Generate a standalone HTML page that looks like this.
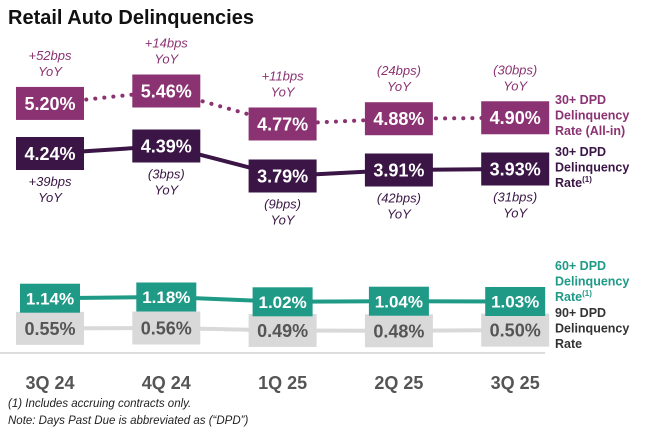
<!DOCTYPE html>
<html><head><meta charset="utf-8"><style>
body{margin:0;background:#fff;width:647px;height:429px;overflow:hidden;font-family:"Liberation Sans",sans-serif}
svg text{font-family:"Liberation Sans",sans-serif}
</style></head><body>
<svg id="c" width="647" height="429">
<text x="8" y="24" font-size="20" font-weight="bold" fill="#111">Retail Auto Delinquencies</text>
<line x1="0" y1="353" x2="545" y2="353" stroke="#ddd" stroke-width="2"/>
<text x="8" y="407" font-size="11.5" font-style="italic" fill="#222">(1) Includes accruing contracts only.</text>
<text x="8" y="424" font-size="11.5" font-style="italic" fill="#222">Note: Days Past Due is abbreviated as (“DPD”)</text>
</svg>
<script>
const categories=["3Q 24","4Q 24","1Q 25","2Q 25","3Q 25"];
const allIn=[5.20,5.46,4.77,4.88,4.90];
const dpd30=[4.24,4.39,3.79,3.91,3.93];
const dpd60=[1.14,1.18,1.02,1.04,1.03];
const dpd90=[0.55,0.56,0.49,0.48,0.50];
const allInYoY=["+52bps","+14bps","+11bps","(24bps)","(30bps)"];
const dpd30YoY=["+39bps","(3bps)","(9bps)","(42bps)","(31bps)"];
const svg=document.getElementById('c');const NS="http://www.w3.org/2000/svg";
function x(i){return 50+i*116.3;}
const yAll=v=>91+(5.46-v)*47.8;
const y30=v=>146+(4.39-v)*50;
const y60=v=>297+(1.18-v)*30;
const y90=v=>328+(0.56-v)*35;
function mk(t,a){const e=document.createElementNS(NS,t);for(const k in a)e.setAttribute(k,a[k]);svg.appendChild(e);return e;}
function series(vals,yf,color,txtColor,w,h,fs,dash,name){
  const pts=vals.map((v,i)=>x(i)+","+yf(v)).join(" ");
  const l=mk('polyline',{points:pts,fill:"none",stroke:color,"stroke-width":4,"stroke-dasharray":dash?"0.1 9":"none","stroke-linecap":"round"});
  
  
  vals.forEach((v,i)=>{
    const r=mk('rect',{x:x(i)-w/2,y:yf(v)-h/2,width:w,height:h,fill:color});
    
    
    const t=mk('text',{x:x(i),y:yf(v)+fs*0.36,"text-anchor":"middle","font-size":fs,"font-weight":"bold",fill:txtColor});
    t.textContent=v.toFixed(2)+"%";
    
    
  });
}
series(dpd90,y90,"#d9d9d9","#555",68,33,18,false,"dpd90");
series(dpd60,y60,"#1f9a87","#fff",60,29,17,false,"dpd60");
series(allIn,yAll,"#8b3372","#fff",68,33,18,true,"all-in");
series(dpd30,y30,"#3a1545","#fff",68,33,18,false,"dpd30");
function ann(lines,xx,y0,color,name){lines.forEach((s,j)=>{const t=mk('text',{x:xx,y:y0+j*16,"text-anchor":"middle","font-size":13,"font-style":"italic",fill:color});t.textContent=s;
  
  });}
allIn.forEach((v,i)=>ann([allInYoY[i],"YoY"],x(i),yAll(v)-16.5-27,"#8b3372","all-in-yoy"));
dpd30.forEach((v,i)=>ann([dpd30YoY[i],"YoY"],x(i),y30(v)+16.5+16,"#3a1545","dpd30-yoy"));
categories.forEach((c,i)=>{const t=mk('text',{x:x(i),y:389,"text-anchor":"middle","font-size":18,"font-weight":"bold",fill:"#555"});t.textContent=c;
  
  });
function leg(lines,y0,color){lines.forEach((s,j)=>{const t=mk('text',{x:555,y:y0+j*15.5,"font-size":12.5,"font-weight":"bold",fill:color});t.innerHTML=s;
  
  });}
leg(["30+ DPD","Delinquency","Rate (All-in)"],104,"#8b3372");
leg(["30+ DPD","Delinquency","Rate<tspan font-size='8' dy='-5'>(1)</tspan>"],156,"#3a1545");
leg(["60+ DPD","Delinquency","Rate<tspan font-size='8' dy='-5'>(1)</tspan>"],270,"#1f9a87");
leg(["90+ DPD","Delinquency","Rate"],317,"#333");
</script>
</body></html>
